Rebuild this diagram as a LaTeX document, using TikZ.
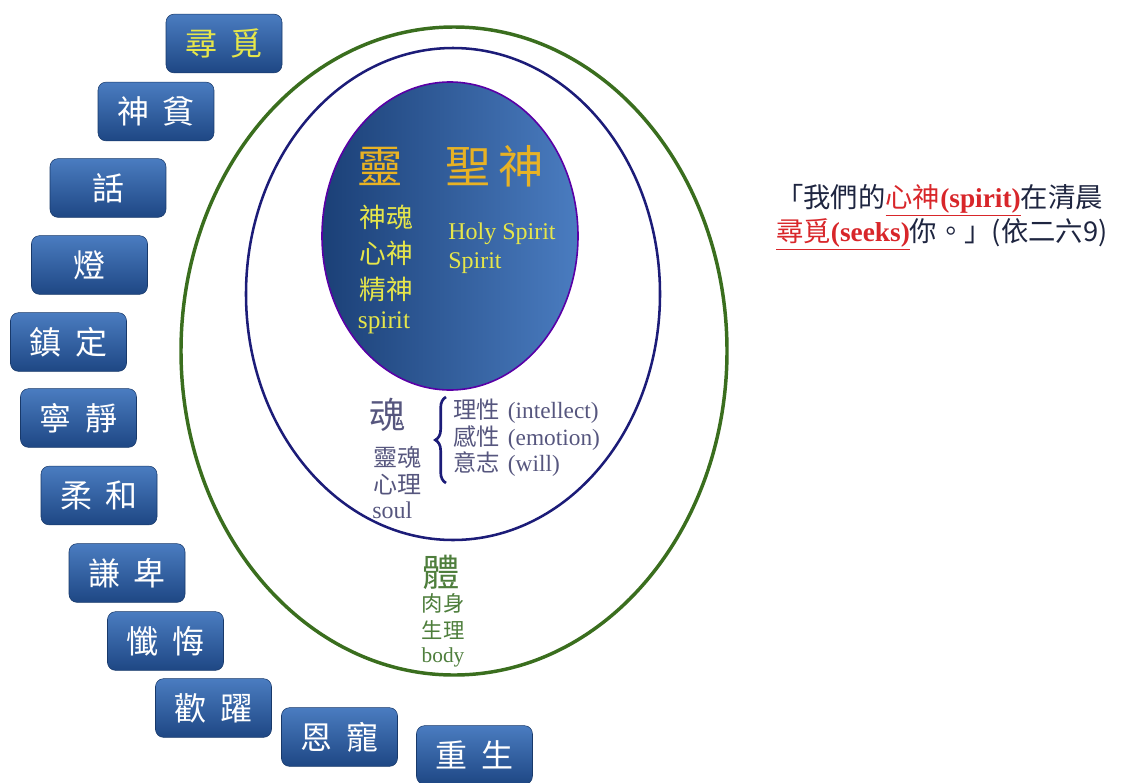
\documentclass[tikz,border=0pt]{standalone}
\usepackage{fontspec}
\setmainfont{Liberation Serif}
\newfontfamily\cjk{Noto Sans CJK TC}
\usepackage{tikz}
\usetikzlibrary{shapes, calc, decorations.pathreplacing}
\definecolor{boxtop}{HTML}{4A7CC0}
\definecolor{boxbot}{HTML}{1E4784}
\definecolor{spiritgold}{HTML}{E8B224}
\definecolor{spirityel}{HTML}{E6E64A}
\definecolor{soulgrey}{HTML}{56567E}
\definecolor{bodygreen}{HTML}{4E7E3C}
\definecolor{ringgreen}{HTML}{3A6E1E}
\definecolor{ringnavy}{HTML}{1C1C78}
\definecolor{quotered}{HTML}{D8262A}
\definecolor{quotenavy}{HTML}{1E2540}
\tikzset{
	mystepbox/.style={rectangle, top color=boxtop, bottom color=boxbot, rounded corners=6pt,
				minimum width=87pt, minimum height=44pt, inner sep=0pt, text centered,
				draw=boxbot!80!black, line width=0.4pt,
				font=\cjk\fontsize{24}{26}\selectfont, text=white
				},
	myspirit/.style={inner sep=0pt, text=spirityel, font=\cjk\fontsize{20}{22}\selectfont},
	mysoul/.style={inner sep=0pt, text=soulgrey, font=\cjk\fontsize{18}{20}\selectfont},
	mybody/.style={inner sep=0pt, text=bodygreen, font=\cjk\fontsize{16}{18}\selectfont},
	mytitle/.style={inner sep=0pt, font=\cjk\fontsize{34}{36}\selectfont},
	myquote/.style={inner sep=0pt, anchor=west, text=quotenavy, font=\cjk\fontsize{20.5}{22}\selectfont}
	}
\newcommand\redul[1]{\textcolor{quotered}{\underline{#1}}}

\begin{document}
\begin{tikzpicture}[x=0.75pt, y=-0.75pt]

				\useasboundingbox (0,0) rectangle (1139,782);

				% rings
				\draw[ringgreen, line width=2.6pt] (454,351) ellipse [x radius=273, y radius=324];
				\draw[ringnavy, line width=1.9pt] (453,294) ellipse [x radius=207, y radius=246];
				\draw[draw=violet!70!blue, line width=1.2pt, left color=boxbot!90!black, right color=boxtop]
				(450,236) ellipse [x radius=128, y radius=154];

				% spirit
				\node[mytitle, text=spiritgold] (ling) at (380,166) {靈};
				\node[mytitle, text=spiritgold] (shengshen) at (495,166) {聖\hspace{6pt}神};
				\node[myspirit] (shenhun) at (386,217) {神魂};
				\node[myspirit] (xinshen) at (386,253) {心神};
				\node[myspirit] (jingshen) at (386,290) {精神};
				\node[myspirit, font=\fontsize{19}{21}\selectfont] (spiritlbl) at (384,323) {spirit};
				\node[myspirit, anchor=west, font=\fontsize{18}{22}\selectfont, align=left] (holy) at (448,248)
				{Holy Spirit\\Spirit};

				% soul
				\node[mysoul, font=\cjk\fontsize{27}{29}\selectfont] (hun) at (387,415) {魂};
				\node[mysoul] (linghun) at (397,457) {靈魂};
				\node[mysoul] (xinli) at (397,485) {心理};
				\node[mysoul, anchor=west, font=\fontsize{18}{20}\selectfont] (soul) at (372,510) {soul};
				\node[mysoul, anchor=west, align=left, font=\cjk\fontsize{17.5}{20}\selectfont] (faculty) at (453,438)
				{理性\hspace{6pt}\textrm{(intellect)}\\感性\hspace{6pt}\textrm{(emotion)}\\意志\hspace{6pt}\textrm{(will)}};
				\draw[ringnavy, line width=2pt, decorate, decoration={brace, amplitude=8pt}]
				(446,483) -- (446,397);

				% body
				\node[mybody, font=\cjk\fontsize{28}{30}\selectfont] (ti) at (441,572) {體};
				\node[mybody] (roushen) at (443,603) {肉身};
				\node[mybody] (shengli) at (443,630) {生理};
				\node[mybody, font=\fontsize{16}{18}\selectfont] (body) at (443,657) {body};

				% steps
				\node[mystepbox, text=spirityel] (xunmi) at (224,43.5) {尋\hspace{10pt}覓};
				\node[mystepbox] (shenpin) at (156,111.5) {神\hspace{10pt}貧};
				\node[mystepbox] (hua) at (108,188) {話};
				\node[mystepbox] (deng) at (89.5,265) {燈};
				\node[mystepbox] (zhending) at (68.5,342) {鎮\hspace{10pt}定};
				\node[mystepbox] (ningjing) at (78.5,418) {寧\hspace{10pt}靜};
				\node[mystepbox] (rouhe) at (99,495.5) {柔\hspace{10pt}和};
				\node[mystepbox] (qianbei) at (127,573) {謙\hspace{10pt}卑};
				\node[mystepbox] (chanhui) at (165.5,641) {懺\hspace{10pt}悔};
				\node[mystepbox] (huanyue) at (213.5,708) {歡\hspace{10pt}躍};
				\node[mystepbox] (enchong) at (339.5,737) {恩\hspace{10pt}寵};
				\node[mystepbox] (chongsheng) at (474.5,755) {重\hspace{10pt}生};

				% quote
				\node[myquote] (quoteA) at (776,200)
				{「我們的\redul{心神\textbf{\textrm{(spirit)}}}在清晨};
				\node[myquote] (quoteB) at (776,234)
				{\redul{尋覓\textbf{\textrm{(seeks)}}}你。」(依二六9)};

	\end{tikzpicture}
\end{document}
